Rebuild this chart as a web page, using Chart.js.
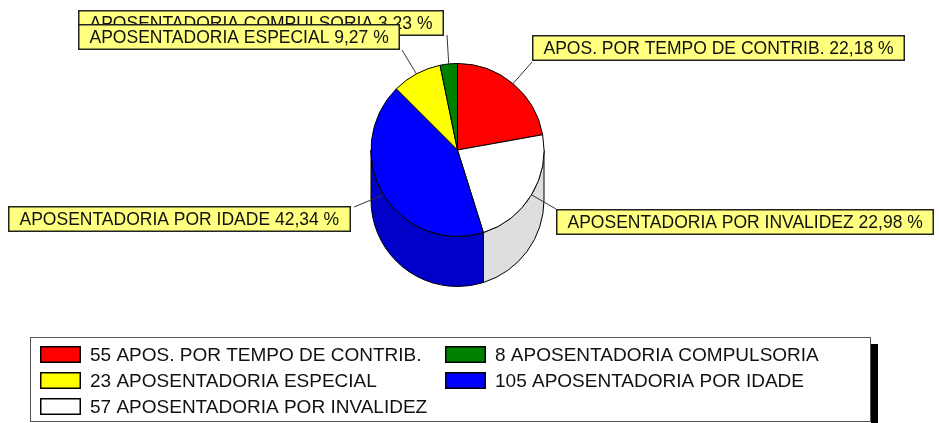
<!DOCTYPE html>
<html><head><meta charset="utf-8">
<script src="https://cdn.jsdelivr.net/npm/chart.js@4.4.0/dist/chart.umd.min.js"></script>
<style>html,body{margin:0;padding:0;background:#fff;}canvas{display:block;}</style>
</head><body>
<canvas id="c" width="939" height="423"></canvas>
<script>
// ---- data ----
const categories = ['APOS. POR TEMPO DE CONTRIB.', 'APOSENTADORIA POR INVALIDEZ', 'APOSENTADORIA POR IDADE', 'APOSENTADORIA ESPECIAL', 'APOSENTADORIA COMPULSORIA'];
const counts = [55, 57, 105, 23, 8];
const legendOrder = [0, 3, 1, 4, 2];

// ---- style ----
const topColors = ['#ff0000', '#ffffff', '#0000ff', '#ffff00', '#008000'];
const sideColors = ['#c80000', '#dedede', '#0000c8', '#c8c800', '#006000'];
const DEPTH = 50;
const LABEL_FONT = '17.5px "Liberation Sans", Arial, sans-serif';
const LEGEND_FONT = '19px "Liberation Sans", Arial, sans-serif';
// label box placement (top-left) and leader start point on box
const labelLayout = [
  {x: 532, y: 35, lx: 532, ly: 62},
  {x: 556, y: 209, lx: 556, ly: 209},
  {x: 8, y: 206, lx: 354, ly: 207},
  {x: 78, y: 24, lx: 402, ly: 50},
  {x: 78, y: 10, lx: 447, ly: 35}
];
const labelDrawOrder = [4, 3, 0, 2, 1];

const total = counts.reduce((a, b) => a + b, 0);
const pct = v => (v / total * 100).toFixed(2).replace('.', ',') + ' %';

const sidePlugin = {
  id: 'side3d',
  beforeDatasetsDraw(chart) {
    const ctx = chart.ctx;
    const meta = chart.getDatasetMeta(0);
    ctx.save();
    meta.data.forEach((arc, i) => {
      const p = arc.getProps(['x', 'y', 'startAngle', 'endAngle', 'outerRadius'], true);
      let a1 = p.startAngle, a2 = p.endAngle;
      // normalize into [0, 2PI) range comparisons
      const segs = [];
      for (let k = -1; k <= 1; k++) {
        const s = Math.max(a1, 0 + k * 2 * Math.PI), e = Math.min(a2, Math.PI + k * 2 * Math.PI);
        if (e > s) segs.push([s, e]);
      }
      segs.forEach(([s, e]) => {
        const r = p.outerRadius;
        ctx.beginPath();
        ctx.arc(p.x, p.y, r, s, e);
        ctx.lineTo(p.x + r * Math.cos(e), p.y + r * Math.sin(e) + DEPTH);
        ctx.arc(p.x, p.y + DEPTH, r, e, s, true);
        ctx.closePath();
        ctx.fillStyle = sideColors[i];
        ctx.fill();
        ctx.lineWidth = 1;
        ctx.strokeStyle = '#000';
        ctx.stroke();
      });
    });
    ctx.restore();
  }
};

const labelPlugin = {
  id: 'labels3d',
  afterDatasetsDraw(chart) {
    const ctx = chart.ctx;
    const meta = chart.getDatasetMeta(0);
    ctx.save();
    // leader lines
    ctx.strokeStyle = '#333';
    ctx.lineWidth = 1;
    meta.data.forEach((arc, i) => {
      const p = arc.getProps(['x', 'y', 'startAngle', 'endAngle', 'outerRadius'], true);
      const mid = (p.startAngle + p.endAngle) / 2;
      const ex = p.x + p.outerRadius * Math.cos(mid);
      const ey = p.y + p.outerRadius * Math.sin(mid);
      const L = labelLayout[i];
      ctx.beginPath();
      ctx.moveTo(L.lx, L.ly);
      ctx.lineTo(ex, ey);
      ctx.stroke();
    });
    // boxes
    ctx.font = LABEL_FONT;
    labelDrawOrder.forEach(i => {
      const L = labelLayout[i];
      const txt = categories[i] + ' ' + pct(counts[i]);
      const w = Math.round(ctx.measureText(txt).width + 23);
      const h = 26;
      ctx.fillStyle = '#ffff80';
      ctx.fillRect(L.x, L.y, w, h);
      ctx.strokeStyle = '#222';
      ctx.lineWidth = 1.5;
      ctx.strokeRect(L.x + 0.75, L.y + 0.75, w - 1.5, h - 1.5);
      ctx.fillStyle = '#111';
      ctx.textBaseline = 'alphabetic';
      ctx.fillText(txt, L.x + 11.5, L.y + 19);
    });
    // legend
    const lx = 30, ly = 337, lw = 841, lh = 85;
    ctx.fillStyle = '#000';
    ctx.fillRect(lx + lw, ly + 7, 7, 423 - ly - 7);
    ctx.fillStyle = '#fff';
    ctx.fillRect(lx, ly, lw, lh);
    ctx.strokeStyle = '#555';
    ctx.lineWidth = 1;
    ctx.strokeRect(lx + 0.5, ly + 0.5, lw - 1, lh - 1);
    ctx.font = LEGEND_FONT;
    legendOrder.forEach((idx, k) => {
      const col = Math.floor(k / 3), row = k % 3;
      const sx = col === 0 ? 40 : 445;
      const sy = 346 + row * 26;
      ctx.fillStyle = topColors[idx];
      ctx.fillRect(sx, sy, 41, 17);
      ctx.strokeStyle = '#000';
      ctx.lineWidth = 1.5;
      ctx.strokeRect(sx + 0.75, sy + 0.75, 39.5, 15.5);
      ctx.fillStyle = '#111';
      ctx.fillText(counts[idx] + ' ' + categories[idx], sx + 50, sy + 15);
    });
    ctx.restore();
  }
};

new Chart(document.getElementById('c'), {
  type: 'pie',
  data: {
    labels: categories,
    datasets: [{
      data: counts,
      backgroundColor: topColors,
      borderColor: '#000',
      borderWidth: 1
    }]
  },
  options: {
    responsive: false,
    animation: false,
    devicePixelRatio: 1,
    layout: {padding: {left: 370, right: 394, top: 63, bottom: 186}},
    plugins: {legend: {display: false}, tooltip: {enabled: false}}
  },
  plugins: [sidePlugin, labelPlugin]
});
</script>
</body></html>
